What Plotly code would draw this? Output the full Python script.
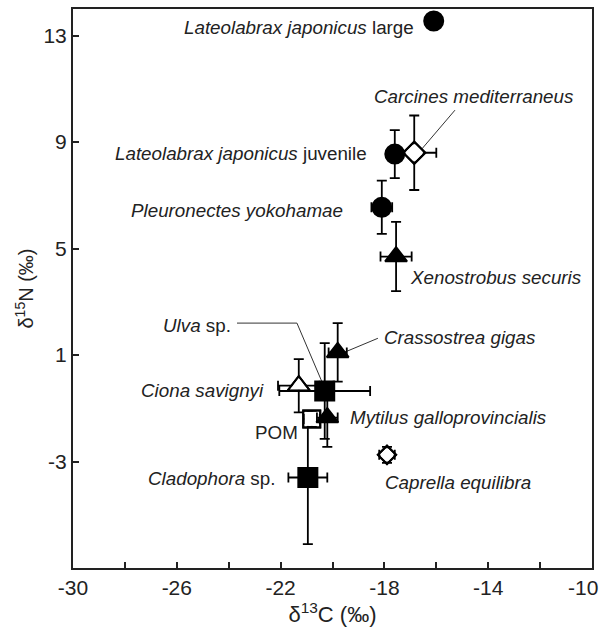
import plotly.graph_objects as go

# ---- data (δ13C, δ15N, SD) ----
species = ["Lateolabrax japonicus large", "Carcines mediterraneus",
           "Lateolabrax japonicus juvenile", "Pleuronectes yokohamae",
           "Xenostrobus securis", "Crassostrea gigas", "Ulva sp.",
           "Ciona savignyi", "POM", "Mytilus galloprovincialis",
           "Cladophora sp.", "Caprella equilibra"]
d13c = [-16.1, -16.85, -17.6, -18.1, -17.55, -19.8, -20.3, -21.3, -20.8, -20.2, -20.95, -17.9]
d15n = [13.55, 8.6, 8.55, 6.55, 4.7, 1.1, -0.35, -0.15, -1.4, -1.35, -3.6, -2.75]
sd_c = [0.0, 0.85, 0.3, 0.4, 0.6, 0.35, 1.75, 0.8, 0.3, 0.4, 0.75, 0.3]
sd_n = [0.0, 1.4, 0.9, 1.0, 1.3, 1.1, 1.8, 1.0, 0.3, 1.1, 2.5, 0.3]
symbols = ["circle", "diamond-open", "circle", "circle", "triangle-up",
           "triangle-up", "square", "triangle-up-open", "square-open",
           "triangle-up", "square", "diamond-open"]
sizes = [19, 17, 19, 19, 19, 19, 19, 19, 17, 19, 19, 14]

# axis ticks
x_tickvals = [-30, -26, -22, -18, -14, -10]
x_ticktext = ["-30", "-26", "-22", "-18", "-14", "-10\u00a0\u00a0\u00a0"]
x_minorvals = [-28, -24, -20, -16, -12]
y_tickvals = [13, 9, 5, 1, -3]
y_ticktext = ["13", "9", "5", "1", "-3"]

# labels: html text, anchor x, anchor y, xanchor
label_text = ["<i>Lateolabrax japonicus</i> large", "<i>Carcines mediterraneus</i>",
              "<i>Lateolabrax japonicus</i> juvenile", "<i>Pleuronectes yokohamae</i>",
              "<i>Xenostrobus securis</i>", "<i>Crassostrea gigas</i>", "<i>Ulva</i> sp.",
              "<i>Ciona savignyi</i>", "POM", "<i>Mytilus galloprovincialis</i>",
              "<i>Cladophora</i> sp.", "<i>Caprella equilibra</i>"]
label_x = [-16.8, -14.55, -18.6, -19.5, -17.1, -18.1, -23.85, -22.55, -21.25, -19.4, -22.15, -18.05]
label_y = [13.3, 10.73, 8.59, 6.44, 3.92, 1.67, 2.12, -0.32, -1.9, -1.34, -3.63, -3.78]
label_anchor = ["right", "center", "right", "right", "left", "left", "right",
                "right", "right", "left", "right", "left"]

# leader lines (data coords)
lead_carc_x = [-15.28, -16.55]
lead_carc_y = [10.2, 8.75]
lead_cras_x = [-18.25, -19.55]
lead_cras_y = [1.63, 1.1]
lead_ulva_x = [-23.68, -21.37, -20.4]
lead_ulva_y = [2.2, 2.2, -0.02]

fig = go.Figure()

for lx, ly in [(lead_carc_x, lead_carc_y), (lead_cras_x, lead_cras_y), (lead_ulva_x, lead_ulva_y)]:
    fig.add_trace(go.Scatter(x=lx, y=ly, mode="lines",
                             line=dict(color="#333", width=1), hoverinfo="skip",
                             showlegend=False))

order = [11, 10, 8, 9, 7, 6, 5, 4, 3, 2, 1, 0]
for i in order:
    open_ = symbols[i].endswith("open")
    fig.add_trace(go.Scatter(
        x=[d13c[i]], y=[d15n[i]], mode="markers", name=species[i],
        marker=dict(symbol=symbols[i], size=sizes[i], color="black",
                    line=dict(color="black", width=2)),
        error_x=dict(type="data", array=[sd_c[i]], visible=sd_c[i] > 0,
                     color="black", thickness=1.8, width=5),
        error_y=dict(type="data", array=[sd_n[i]], visible=sd_n[i] > 0,
                     color="black", thickness=1.8, width=5),
        showlegend=False))
    if open_:
        fig.add_trace(go.Scatter(
            x=[d13c[i]], y=[d15n[i]], mode="markers",
            marker=dict(symbol=symbols[i].replace("-open", ""), size=sizes[i] - 3,
                        color="white", line=dict(width=0)),
            hoverinfo="skip", showlegend=False))
        fig.add_trace(go.Scatter(
            x=[d13c[i]], y=[d15n[i]], mode="markers",
            marker=dict(symbol=symbols[i], size=sizes[i], color="black",
                        line=dict(color="black", width=2)),
            hoverinfo="skip", showlegend=False))

for t, x, y, a in zip(label_text, label_x, label_y, label_anchor):
    fig.add_annotation(x=x, y=y, text=t, xanchor=a, yanchor="middle",
                       showarrow=False, font=dict(size=18.8, color="#222"))

font_family = "Liberation Sans, Arial, sans-serif"
fig.update_layout(
    width=601, height=627,
    margin=dict(l=73, r=9, t=9, b=59),
    paper_bgcolor="white", plot_bgcolor="white",
    font=dict(family=font_family, color="#222"),
    xaxis=dict(range=[-30, -10], tickvals=x_tickvals, ticktext=x_ticktext,
               ticks="inside", ticklen=6, ticklabeloverflow="allow", automargin=False,
               tickwidth=2, tickcolor="#222", showline=True, linewidth=2,
               linecolor="#222", mirror=True, showgrid=False, zeroline=False,
               tickfont=dict(size=21),
               minor=dict(tickvals=x_minorvals, ticks="inside", ticklen=6,
                          tickwidth=2, tickcolor="#222", showgrid=False),
               title=dict(text="δ<sup>13</sup>C (‰)", font=dict(size=22), standoff=6)),
    yaxis=dict(range=[-7, 14], tickvals=y_tickvals, ticktext=y_ticktext,
               ticks="inside", ticklen=6, ticklabeloverflow="allow", automargin=False,
               tickwidth=2, tickcolor="#222", showline=True, linewidth=2,
               linecolor="#222", mirror=True, showgrid=False, zeroline=False,
               tickfont=dict(size=21),
               title=dict(text="δ<sup>15</sup>N (‰)", font=dict(size=20), standoff=4)),
)

fig.write_html("out.html")
